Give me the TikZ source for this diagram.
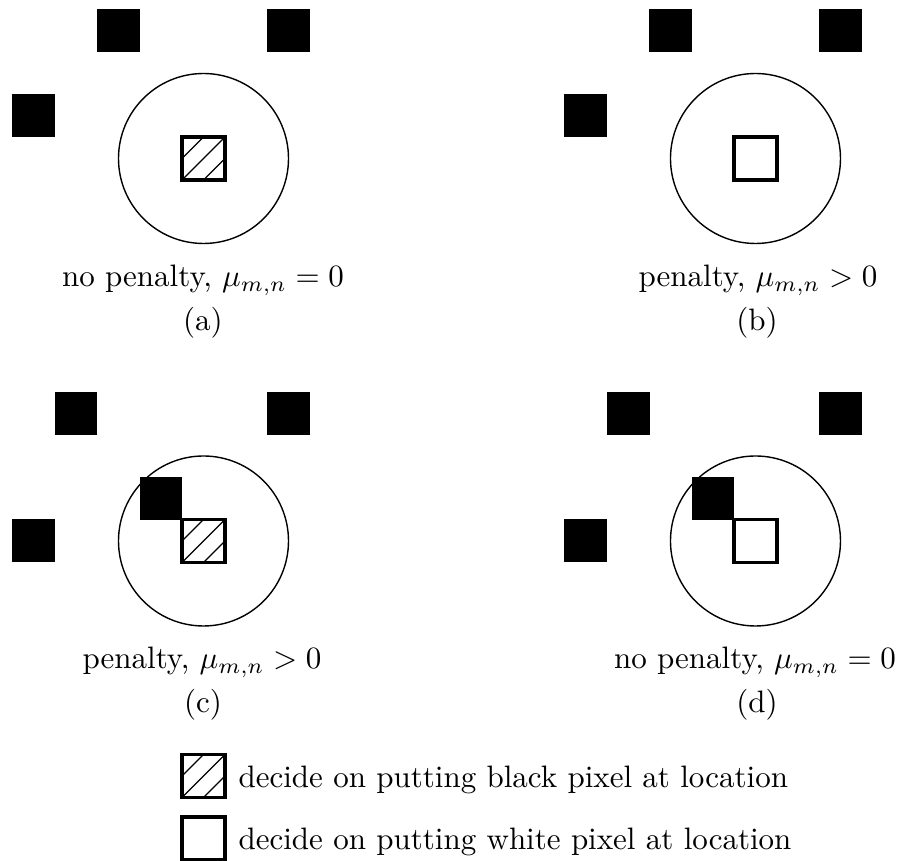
\documentclass[tikz,border=0pt]{standalone}
\begin{document}
\begin{tikzpicture}[x=0.3226pt, y=-0.3226pt,
  pix/.style={rectangle, inner sep=0pt, outer sep=0pt, minimum size=13.87pt},
  blackpix/.style={pix, fill=black},
  whitepix/.style={pix, draw=black, line width=1pt, fill=white},
  hatchpix/.style={whitepix, path picture={
      \draw[line width=0.45pt] (path picture bounding box.west) -- (path picture bounding box.north);
      \draw[line width=0.45pt] (path picture bounding box.south west) -- (path picture bounding box.north east);
      \draw[line width=0.45pt] (path picture bounding box.south) -- (path picture bounding box.east);
  }},
  window/.style={circle, draw=black, line width=0.45pt, inner sep=0pt, minimum size=54.84pt},
  lbl/.style={anchor=base, inner sep=0pt, font=\fontsize{10}{12}\selectfont},
  legtext/.style={anchor=base west, inner sep=0pt, font=\fontsize{10}{12}\selectfont}]
\useasboundingbox (0,0) rectangle (899,861);

% panel (a)
\node[window] (ca) at (203.5,158.5) {};
\node[hatchpix] (qa) at (203.5,158.5) {};
\node[blackpix] (a1) at (118.5,31) {};
\node[blackpix] (a2) at (288.5,31) {};
\node[blackpix] (a3) at (33.5,116) {};
\node[lbl] (la) at (203,287) {no penalty, $\mu_{m,n}=0$};
\node[lbl] (ta) at (203,331) {(a)};

% panel (b)
\node[window] (cb) at (755.5,158.5) {};
\node[whitepix] (qb) at (755.5,158.5) {};
\node[blackpix] (b1) at (670.5,31) {};
\node[blackpix] (b2) at (840.5,31) {};
\node[blackpix] (b3) at (585.5,116) {};
\node[lbl] (lb) at (758,287) {penalty, $\mu_{m,n}>0$};
\node[lbl] (tb) at (757,331) {(b)};

% panel (c)
\node[window] (cc) at (203.5,541) {};
\node[blackpix] (c1) at (76,413.5) {};
\node[blackpix] (c2) at (288.5,413.5) {};
\node[blackpix] (c3) at (33.5,541) {};
\node[blackpix] (c4) at (161,498.5) {};
\node[hatchpix] (qc) at (203.5,541) {};
\node[lbl] (lc) at (202,669) {penalty, $\mu_{m,n}>0$};
\node[lbl] (tc) at (203,713) {(c)};

% panel (d)
\node[window] (cd) at (755.5,541) {};
\node[blackpix] (d1) at (628.5,413.5) {};
\node[blackpix] (d2) at (840.5,413.5) {};
\node[blackpix] (d3) at (585.5,541) {};
\node[blackpix] (d4) at (713,498.5) {};
\node[whitepix] (qd) at (755.5,541) {};
\node[lbl] (ld) at (755,669) {no penalty, $\mu_{m,n}=0$};
\node[lbl] (td) at (757,713) {(d)};

% legend
\node[hatchpix] (kh) at (203.5,776) {};
\node[whitepix] (kw) at (203.5,838.5) {};
\node[legtext] (kht) at (238,788) {decide on putting black pixel at location};
\node[legtext] (kwt) at (238,850) {decide on putting white pixel at location};
\end{tikzpicture}
\end{document}
